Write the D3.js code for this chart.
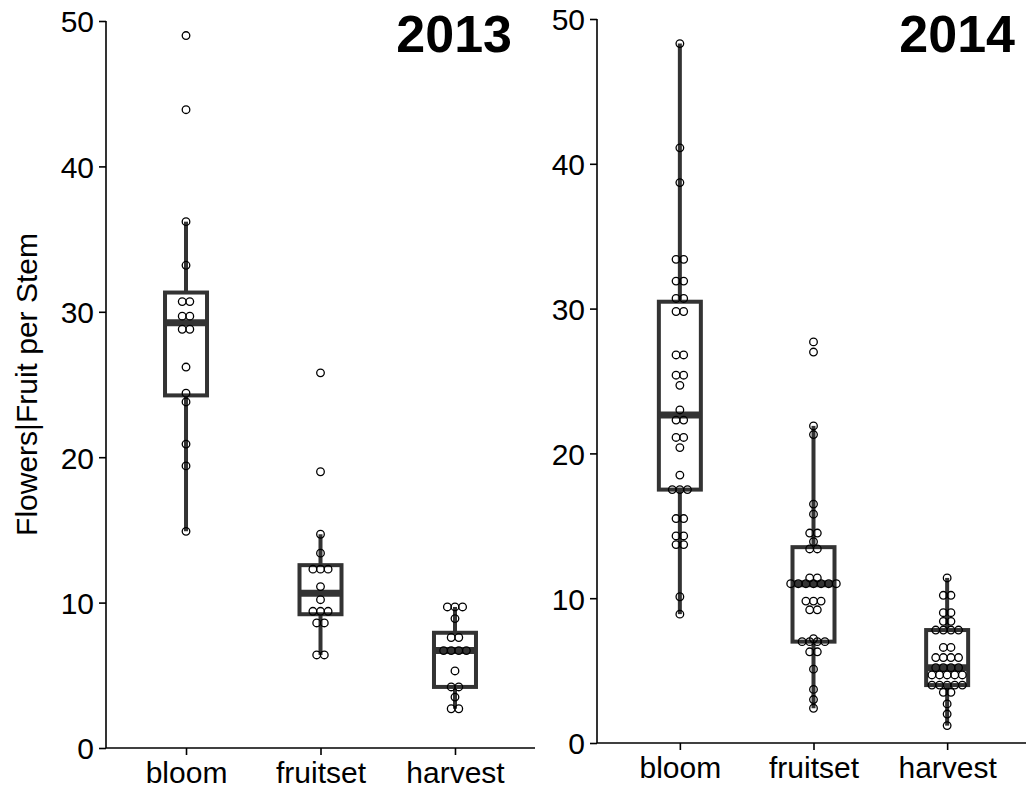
<!DOCTYPE html>
<html>
<head>
<meta charset="utf-8">
<script src="https://cdn.jsdelivr.net/npm/d3@7"></script>
<style>
  html, body { margin: 0; padding: 0; background: #ffffff; }
  svg { display: block; }
  text { font-family: "Liberation Sans", Arial, sans-serif; fill: #000; }
</style>
</head>
<body>
<svg id="chart" width="1026" height="791"></svg>
<script>
// Flowers / fruit counted per stem at three stages, two seasons
const categories = ["bloom", "fruitset", "harvest"];
const years = ["2013", "2014"];
const yTicks = [0, 10, 20, 30, 40, 50];

const bloom2013 = [49.0, 43.9, 36.2, 33.2, 30.7, 30.7, 29.7, 29.7, 28.8, 28.8, 26.2, 24.4, 23.8, 20.9, 19.4, 14.9];
const fruitset2013 = [25.8, 19.0, 14.7, 13.4, 12.3, 12.3, 12.3, 11.1, 10.2, 9.4, 9.4, 9.4, 8.6, 8.6, 6.4, 6.4];
const harvest2013 = [9.7, 9.7, 9.7, 8.9, 7.6, 7.6, 6.7, 6.7, 6.7, 6.7, 5.3, 4.2, 4.2, 3.5, 2.7, 2.7];

const bloom2014 = [48.3, 41.1, 38.7, 33.4, 33.4, 31.9, 31.9, 30.7, 30.7, 29.8, 29.8, 26.8, 26.8, 25.4, 25.4, 24.7, 23.0,
  22.3, 22.3, 21.1, 21.1, 20.4, 18.5, 17.5, 17.5, 17.5, 15.5, 15.5, 14.3, 14.3, 13.7, 13.7, 10.1, 8.9];
const fruitset2014 = [27.7, 27.0, 21.9, 21.3, 16.5, 15.8, 14.5, 14.5, 13.9, 13.4, 13.4, 11.4, 11.4,
  11.0, 11.0, 11.0, 11.0, 11.0, 11.0, 11.0, 9.8, 9.8, 9.8, 9.2, 9.2, 7.2, 7.0, 7.0, 7.0, 7.0, 6.3, 6.3, 5.1, 3.7, 3.0, 2.4];
const harvest2014 = [11.4, 10.2, 10.2, 9.0, 9.0, 8.4, 8.4, 7.8, 7.8, 7.8, 7.8, 6.6, 6.6, 5.9, 5.9, 5.9, 5.9,
  5.2, 5.2, 5.2, 5.2, 4.7, 4.7, 4.7, 4.7, 4.7, 4.0, 4.0, 4.0, 4.0, 4.0, 3.5, 3.5, 2.7, 2.0, 1.2];

const seriesByYear = {
  "2013": [bloom2013, fruitset2013, harvest2013],
  "2014": [bloom2014, fruitset2014, harvest2014]
};

const svg = d3.select("#chart");

// panel geometry
const panels = [
  { year: "2013", left: 106, right: 535, bottom: 748, top: 21, pad: 0.595, titleX: 512, showYLabel: true },
  { year: "2014", left: 597, right: 1030, bottom: 743, top: 19, pad: 0.62, titleX: 1015, showYLabel: false }
];

const boxWidth = 42;
const dotR = 3.8;
const dotStep = 7.6;
const boxColor = "#333333";
const fontSize = 30;

function boxStats(values) {
  const s = values.slice().sort(d3.ascending);
  const q1 = d3.quantile(s, 0.25);
  const med = d3.quantile(s, 0.5);
  const q3 = d3.quantile(s, 0.75);
  const iqr = q3 - q1;
  const lo = d3.min(s.filter(v => v >= q1 - 1.5 * iqr));
  const hi = d3.max(s.filter(v => v <= q3 + 1.5 * iqr));
  return { q1, med, q3, lo, hi };
}

panels.forEach(p => {
  const g = svg.append("g");
  const x = d3.scalePoint().domain(categories).range([p.left, p.right]).padding(p.pad);
  const y = d3.scaleLinear().domain([0, 50]).range([p.bottom, p.top]);

  // axes
  const yAxis = g.append("g")
    .attr("transform", `translate(${p.left},0)`)
    .call(d3.axisLeft(y).tickValues(yTicks).tickSize(7).tickPadding(5));
  const xAxis = g.append("g")
    .attr("transform", `translate(0,${p.bottom})`)
    .call(d3.axisBottom(x).tickSize(7).tickPadding(6));
  [yAxis, xAxis].forEach(a => {
    a.select(".domain").attr("stroke", "#000").attr("stroke-width", 1.6);
    a.selectAll(".tick line").attr("stroke", "#000").attr("stroke-width", 1.6);
    a.selectAll(".tick text").attr("font-size", fontSize)
      .attr("font-family", "'Liberation Sans', Arial, sans-serif").attr("fill", "#000");
  });
  xAxis.select(".domain").attr("d", `M${p.left},0H${p.right}`);
  yAxis.select(".domain").attr("d", `M0,${p.bottom}V${p.top}`);
  xAxis.selectAll(".tick text").attr("dy", "0.72em");
  yAxis.selectAll(".tick text").attr("dy", "0.36em");

  const data = seriesByYear[p.year];

  data.forEach((vals, i) => {
    const cx = x(categories[i]);
    const st = boxStats(vals);

    // whiskers
    g.append("line").attr("x1", cx).attr("x2", cx)
      .attr("y1", y(st.q3)).attr("y2", y(st.hi))
      .attr("stroke", boxColor).attr("stroke-width", 4);
    g.append("line").attr("x1", cx).attr("x2", cx)
      .attr("y1", y(st.q1)).attr("y2", y(st.lo))
      .attr("stroke", boxColor).attr("stroke-width", 4);

    // box
    g.append("rect")
      .attr("x", cx - boxWidth / 2).attr("width", boxWidth)
      .attr("y", y(st.q3)).attr("height", y(st.q1) - y(st.q3))
      .attr("fill", "#fff").attr("stroke", boxColor).attr("stroke-width", 4);

    // median
    g.append("line")
      .attr("x1", cx - boxWidth / 2).attr("x2", cx + boxWidth / 2)
      .attr("y1", y(st.med)).attr("y2", y(st.med))
      .attr("stroke", boxColor).attr("stroke-width", 7);

    // dots: equal values laid side by side, centred on the category
    const groups = d3.groups(vals, v => v);
    const dots = [];
    groups.forEach(([v, arr]) => {
      const k = arr.length;
      arr.forEach((_, j) => dots.push({ v, off: (j - (k - 1) / 2) * dotStep }));
    });
    g.selectAll(null).data(dots).join("circle")
      .attr("cx", d => cx + d.off)
      .attr("cy", d => y(d.v))
      .attr("r", dotR)
      .attr("fill", "none")
      .attr("stroke", "#000")
      .attr("stroke-width", 1.3);
  });

  // year title
  g.append("text")
    .attr("x", p.titleX).attr("y", 52)
    .attr("text-anchor", "end")
    .attr("font-size", 52).attr("font-weight", "bold")
    .text(p.year);

  if (p.showYLabel) {
    g.append("text")
      .attr("transform", `translate(37,${(p.top + p.bottom) / 2}) rotate(-90)`)
      .attr("text-anchor", "middle")
      .attr("font-size", fontSize)
      .text("Flowers|Fruit per Stem");
  }
});
</script>
</body>
</html>
